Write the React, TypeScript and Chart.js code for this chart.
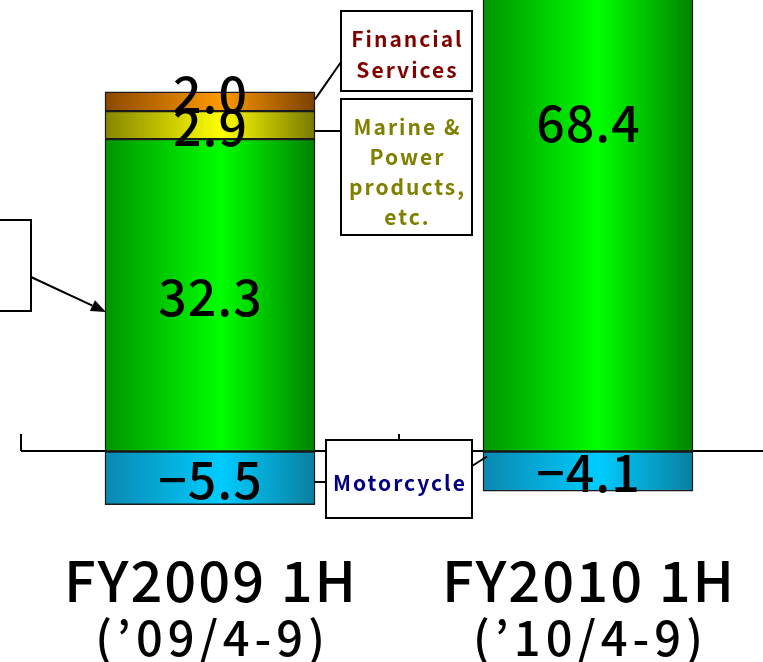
import { useEffect, useRef } from 'react';
import { Chart, registerables } from 'chart.js';

Chart.register(...registerables);

// ---- data ----
const categories = ['FY2009 1H', 'FY2010 1H'];
const periods = ['(’09/4-9)', '(’10/4-9)'];
const motorcycle: (number | null)[] = [-5.5, -4.1];
const automobile: (number | null)[] = [32.3, 68.4];
const marinePower: (number | null)[] = [2.9, null];
const financialServices: (number | null)[] = [2.0, null];

const BAR_THICKNESS = 210;
const JP_FONT = '"Noto Sans CJK JP", "Noto Sans", sans-serif';

function grad(edgeL: string, mid: string, edgeR: string) {
  return (c: any) => {
    if (!c || c.type !== 'data') return mid;
    const chart = c.chart;
    const xs = chart && chart.scales && chart.scales.x;
    if (!xs || !c.parsed) return mid;
    const cx = xs.getPixelForValue(c.parsed.x);
    if (!isFinite(cx)) return mid;
    const l = cx - BAR_THICKNESS / 2;
    const r = cx + BAR_THICKNESS / 2;
    const g = chart.ctx.createLinearGradient(l, 0, r, 0);
    g.addColorStop(0, edgeL);
    g.addColorStop(0.55, mid);
    g.addColorStop(1, edgeR);
    return g;
  };
}

const toPoints = (arr: (number | null)[]) => arr.map((v, i) => ({ x: i, y: v }));

function fmt(v: number) {
  return v < 0 ? '−' + Math.abs(v).toFixed(1) : v.toFixed(1);
}

interface Callout {
  x: number; y: number; w: number; h: number;
  lines: string[]; color: string; lineYs: number[];
}

const callouts: Callout[] = [
  { x: 341, y: 11, w: 131, h: 80, lines: ['Financial', 'Services'], color: '#800000', lineYs: [39, 70] },
  { x: 341, y: 99, w: 131, h: 136, lines: ['Marine &', 'Power', 'products,', 'etc.'], color: '#808000', lineYs: [127, 157, 187, 217] },
  { x: 326, y: 440, w: 146, h: 78, lines: ['Motorcycle'], color: '#000080', lineYs: [483] },
  { x: -60, y: 220, w: 91, h: 91, lines: [], color: '#000', lineYs: [] },
];

function spacedText(ctx: CanvasRenderingContext2D, t: string, x: number, y: number, spacing: number) {
  (ctx as any).letterSpacing = spacing + 'px';
  ctx.fillText(t, x + spacing / 2, y);
  (ctx as any).letterSpacing = '0px';
}

const decorPlugin = {
  id: 'decor',
  beforeDatasetsDraw(chart: any) {
    const ctx = chart.ctx;
    const xs = chart.scales.x;
    const ys = chart.scales.y;
    const y0 = Math.round(ys.getPixelForValue(0));
    ctx.save();
    ctx.strokeStyle = '#000';
    ctx.lineWidth = 2;
    ctx.beginPath();
    const left = xs.getPixelForValue(-0.5);
    ctx.moveTo(left, y0);
    ctx.lineTo(chart.width, y0);
    for (let i = 0; i <= categories.length; i++) {
      const px = Math.round(xs.getPixelForValue(i - 0.5));
      ctx.moveTo(px, y0);
      ctx.lineTo(px, y0 - 17);
    }
    ctx.stroke();
    ctx.restore();
  },
  afterDatasetsDraw(chart: any) {
    const ctx = chart.ctx;
    const xs = chart.scales.x;
    const ys = chart.scales.y;
    const y0 = ys.getPixelForValue(0);

    // value labels
    ctx.save();
    ctx.fillStyle = '#000';
    ctx.textAlign = 'center';
    ctx.textBaseline = 'middle';
    ctx.font = `500 50px ${JP_FONT}`;
    chart.data.datasets.forEach((ds: any, di: number) => {
      const meta = chart.getDatasetMeta(di);
      meta.data.forEach((el: any, i: number) => {
        const v = ds.data[i].y;
        if (v == null) return;
        const { x, y, base } = el.getProps(['x', 'y', 'base'], true);
        const ty = ds.labelAnchor === 'top' ? y : (y + base) / 2;
        spacedText(ctx, fmt(v), x, ty + 2, 1);
      });
    });
    ctx.restore();

    // connectors
    const elFin = chart.getDatasetMeta(3).data[0];
    const elMar = chart.getDatasetMeta(2).data[0];
    const elMoto0 = chart.getDatasetMeta(0).data[0];
    const elMoto1 = chart.getDatasetMeta(0).data[1];
    const elAuto0 = chart.getDatasetMeta(1).data[0];
    ctx.save();
    ctx.strokeStyle = '#000';
    ctx.lineWidth = 2;
    ctx.beginPath();
    if (elFin) {
      const r = elFin.x + elFin.width / 2;
      ctx.moveTo(r, (elFin.y + elFin.base) / 2 - 2);
      ctx.lineTo(callouts[0].x, 62);
    }
    if (elMar) {
      const r = elMar.x + elMar.width / 2;
      ctx.moveTo(r, 131);
      ctx.lineTo(callouts[1].x, 131);
    }
    if (elMoto0) {
      const r = elMoto0.x + elMoto0.width / 2;
      ctx.moveTo(r, 482);
      ctx.lineTo(callouts[2].x, 482);
    }
    if (elMoto1) {
      const l = elMoto1.x - elMoto1.width / 2;
      ctx.moveTo(callouts[2].x + callouts[2].w, 466);
      ctx.lineTo(l + 4, y0 + 5);
    }
    ctx.stroke();
    // arrow to automobile
    if (elAuto0) {
      const sx = callouts[3].x + callouts[3].w;
      const sy = 277;
      const ex = elAuto0.x - elAuto0.width / 2 + 1;
      const ey = 312;
      const ang = Math.atan2(ey - sy, ex - sx);
      const hl = 15;
      ctx.beginPath();
      ctx.moveTo(sx, sy);
      ctx.lineTo(ex - hl * Math.cos(ang), ey - hl * Math.sin(ang));
      ctx.stroke();
      ctx.beginPath();
      ctx.fillStyle = '#000';
      ctx.moveTo(ex, ey);
      ctx.lineTo(ex - hl * Math.cos(ang) + 6 * Math.sin(ang), ey - hl * Math.sin(ang) - 6 * Math.cos(ang));
      ctx.lineTo(ex - hl * Math.cos(ang) - 6 * Math.sin(ang), ey - hl * Math.sin(ang) + 6 * Math.cos(ang));
      ctx.closePath();
      ctx.fill();
    }
    ctx.restore();

    // callout boxes
    ctx.save();
    callouts.forEach((c) => {
      ctx.fillStyle = '#fff';
      ctx.fillRect(c.x, c.y, c.w, c.h);
      ctx.strokeStyle = '#000';
      ctx.lineWidth = 2;
      ctx.strokeRect(c.x, c.y, c.w, c.h);
      ctx.fillStyle = c.color;
      ctx.font = `bold 21px ${JP_FONT}`;
      ctx.textAlign = 'center';
      ctx.textBaseline = 'middle';
      c.lines.forEach((t, i) => {
        spacedText(ctx, t, c.x + c.w / 2, c.lineYs[i], 2);
      });
    });
    ctx.restore();

    // category labels
    ctx.save();
    ctx.fillStyle = '#000';
    ctx.textAlign = 'center';
    ctx.textBaseline = 'middle';
    categories.forEach((cat, i) => {
      const cx = xs.getPixelForValue(i);
      ctx.font = `500 56px ${JP_FONT}`;
      spacedText(ctx, cat, cx, 581, 2);
      ctx.font = `500 47px ${JP_FONT}`;
      spacedText(ctx, periods[i], cx, 638, 5);
    });
    ctx.restore();
  },
};

export default function App() {
  const ref = useRef<HTMLCanvasElement | null>(null);
  useEffect(() => {
    if (!ref.current) return;
    const common = {
      borderColor: '#1a1a1a',
      borderWidth: 1.5,
      borderSkipped: false,
      barThickness: BAR_THICKNESS,
    };
    const chart = new Chart(ref.current, {
      type: 'bar',
      data: {
        datasets: [
          { label: 'Motorcycle', data: toPoints(motorcycle), backgroundColor: grad('#0a88b0', '#00ccff', '#0a7fa0'), ...common } as any,
          { label: 'Automobile', data: toPoints(automobile), backgroundColor: grad('#009400', '#00ff00', '#008200'), ...common } as any,
          { label: 'Marine & Power products, etc.', data: toPoints(marinePower), backgroundColor: grad('#858500', '#ffff00', '#787800'), ...common } as any,
          { label: 'Financial Services', data: toPoints(financialServices), backgroundColor: grad('#8a4800', '#ff9900', '#7a4000'), labelAnchor: 'top', ...common } as any,
        ],
      },
      options: {
        animation: false,
        responsive: false,
        devicePixelRatio: 1,
        layout: { padding: 0 },
        plugins: { legend: { display: false }, tooltip: { enabled: false } },
        scales: {
          x: { type: 'linear', min: -0.5556, max: 1.463, offset: false, stacked: true, display: false },
          y: { type: 'linear', min: -21.77, max: 46.69, stacked: true, display: false },
        },
      },
      plugins: [decorPlugin],
    });
    return () => chart.destroy();
  }, []);
  return (
    <div style={{ position: 'absolute', left: 0, top: 0, width: 763, height: 662 }}>
      <canvas ref={ref} width={763} height={662} style={{ display: 'block' }} />
    </div>
  );
}
